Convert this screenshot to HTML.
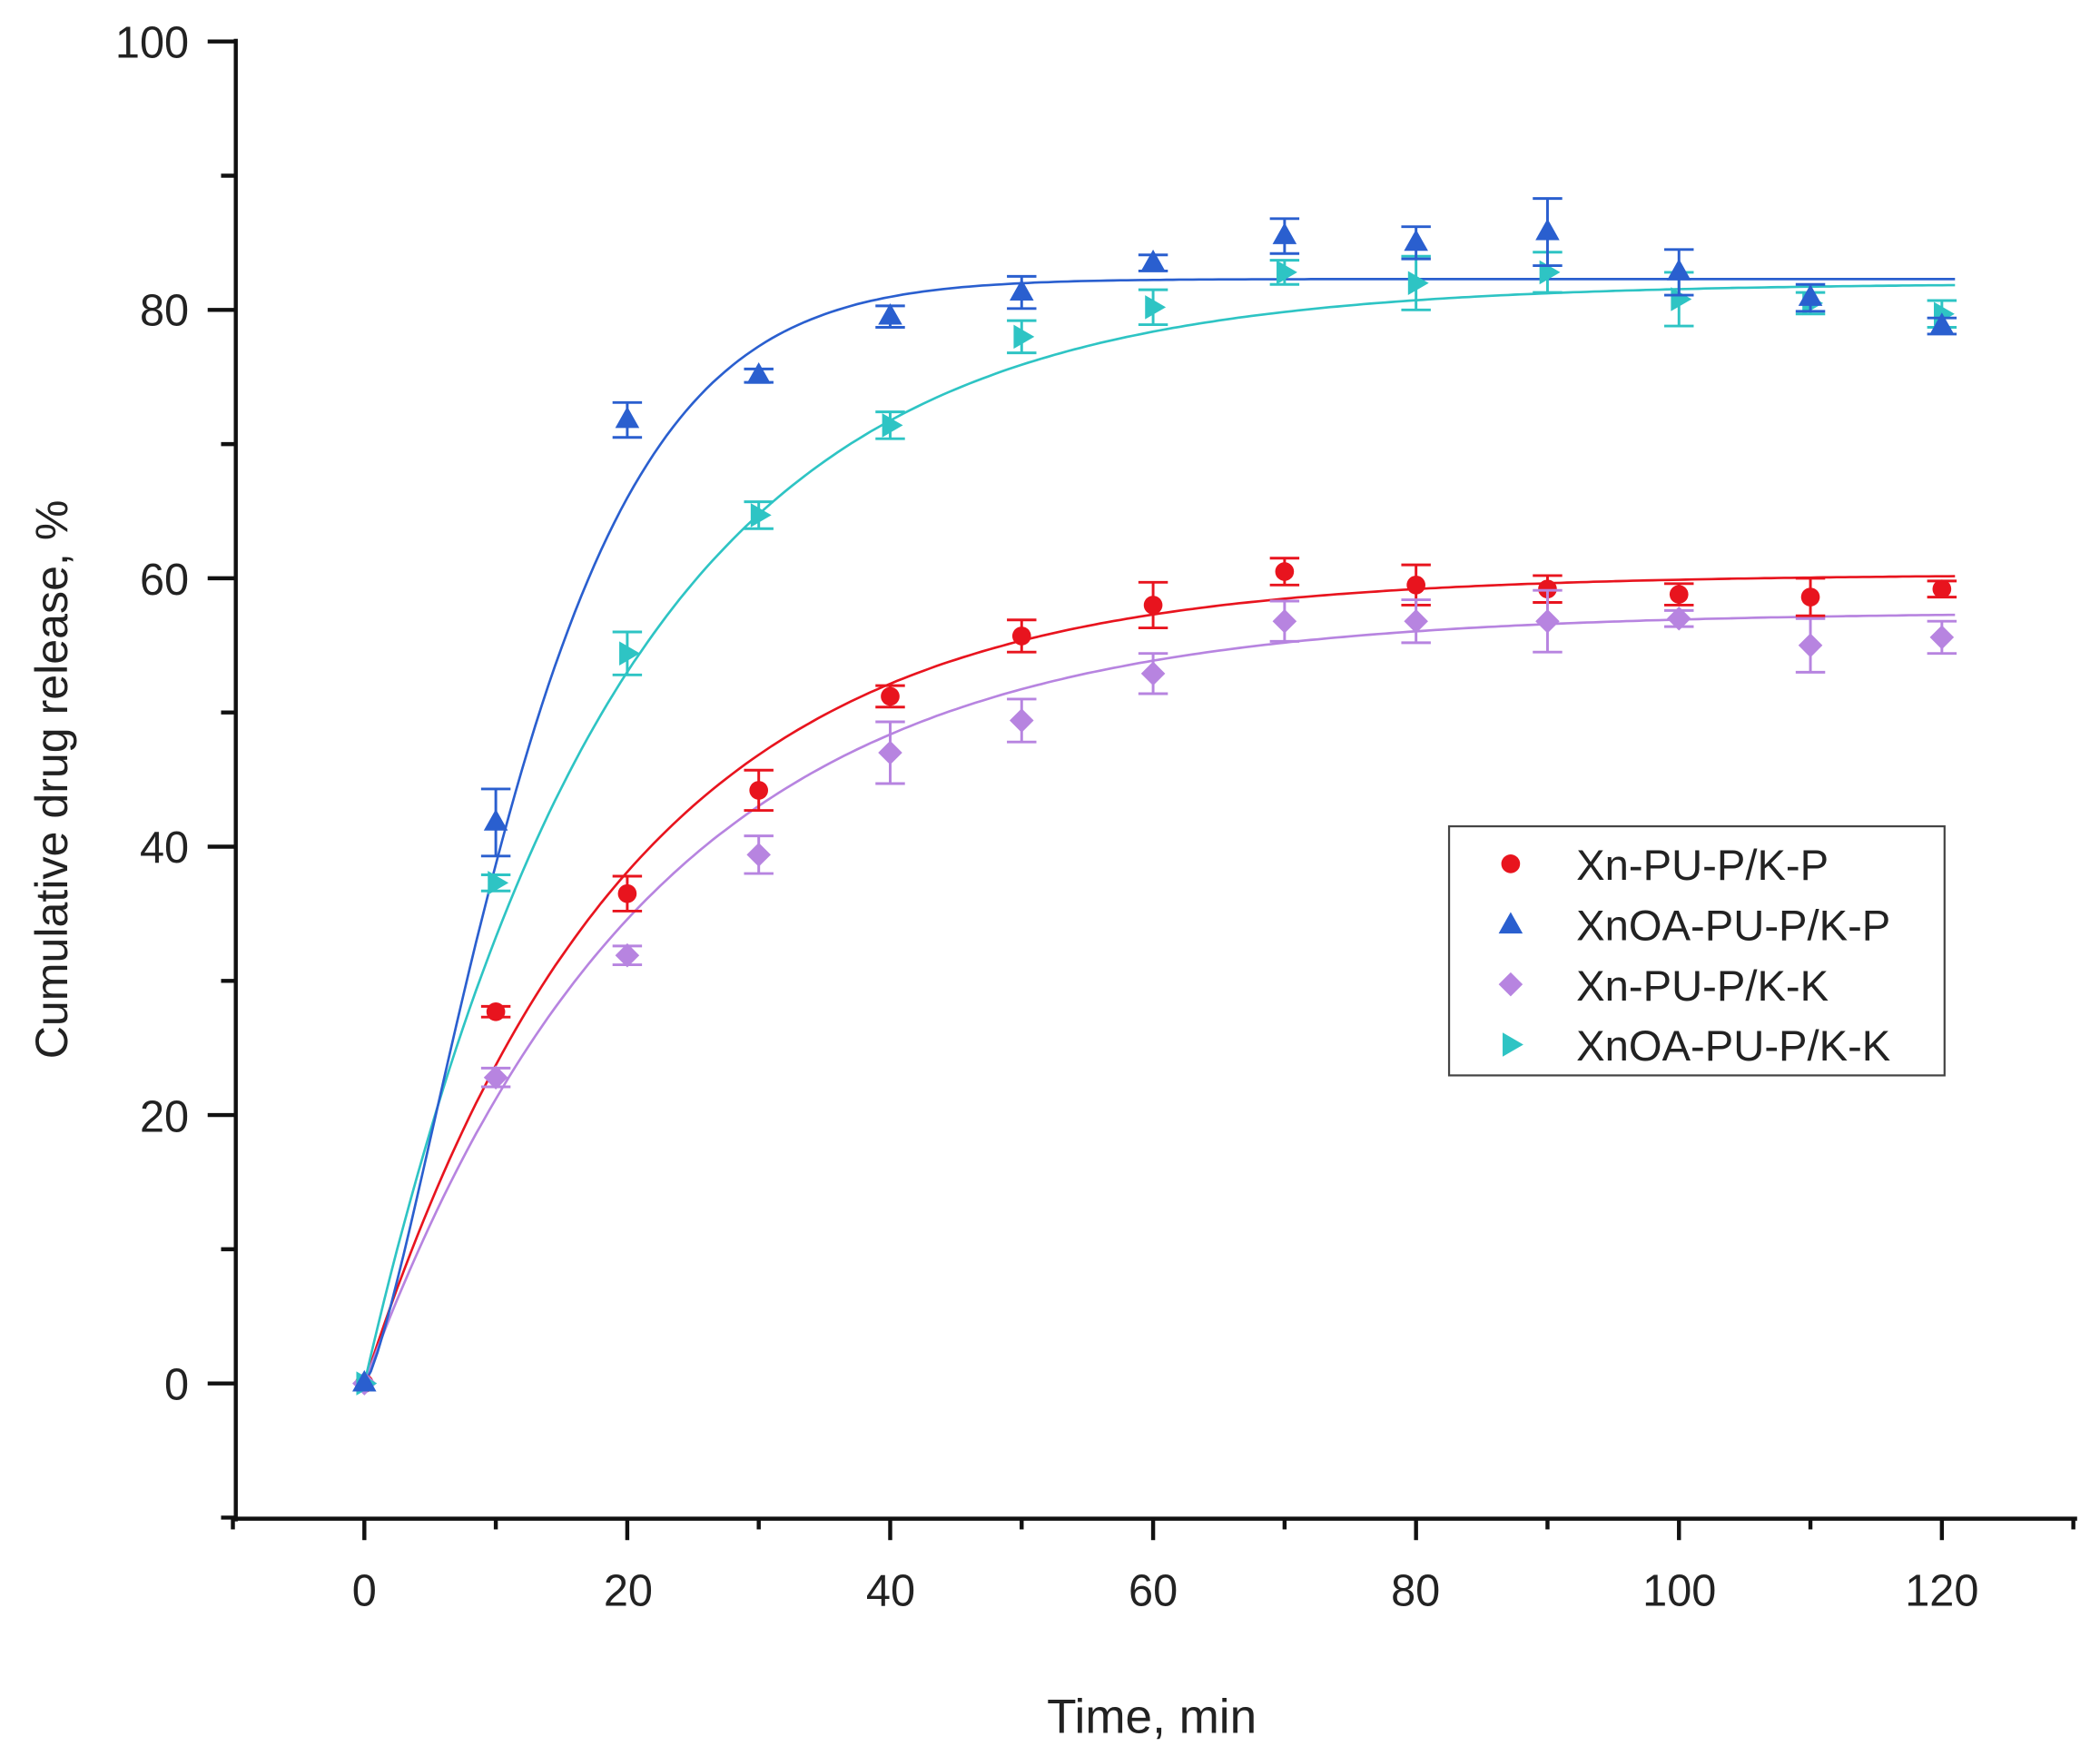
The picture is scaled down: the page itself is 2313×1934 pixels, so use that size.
<!DOCTYPE html>
<html><head><meta charset="utf-8"><style>
html,body{margin:0;padding:0;background:#fff;}
svg{display:block;}
text{font-family:"Liberation Sans",Arial,sans-serif;fill:#222;}
</style></head><body>
<svg id="s" width="2313" height="1934" viewBox="0 0 1568 1311.2" xmlns="http://www.w3.org/2000/svg">
<rect width="1568" height="1311.2" fill="#fff"/>
<g stroke="#111" stroke-width="3" fill="none" id="axes">
<line x1="176" y1="29" x2="176" y2="1136"/>
<line x1="174" y1="1134" x2="1551" y2="1134"/>
</g>
<g font-size="33" text-anchor="end">
<text x="141" y="43">100</text>
<text x="141" y="243">80</text>
<text x="141" y="444">60</text>
<text x="141" y="644">40</text>
<text x="141" y="845">20</text>
<text x="141" y="1045">0</text>
</g>
<g font-size="33" text-anchor="middle">
<text x="272" y="1199">0</text>
<text x="469" y="1199">20</text>
<text x="665" y="1199">40</text>
<text x="861" y="1199">60</text>
<text x="1057" y="1199">80</text>
<text x="1254" y="1199">100</text>
<text x="1450" y="1199">120</text>
<text x="860" y="1294" font-size="36">Time, min</text>
<text transform="translate(50,582) rotate(-90)" font-size="34">Cumulative drug release, %</text>
</g>
<g id="plot"></g>
<rect x="1082" y="617" width="370" height="186" fill="none" stroke="#444" stroke-width="1.5"/>
<g font-size="32">
<text x="1177" y="657">Xn-PU-P/K-P</text>
<text x="1177" y="702">XnOA-PU-P/K-P</text>
<text x="1177" y="747">Xn-PU-P/K-K</text>
<text x="1177" y="792">XnOA-PU-P/K-K</text>
</g>
<g id="leg"></g>
</svg>
<script>
var NS="http://www.w3.org/2000/svg";
function X(t){return 272+t*9.8167;}
function Y(v){return 1033-v*10.02;}
function el(p,tag,a){var e=document.createElementNS(NS,tag);for(var k in a)e.setAttribute(k,a[k]);p.appendChild(e);return e;}
var ax=document.getElementById('axes');
for(var v=-10;v<=100;v+=10){var maj=(v%20==0);el(ax,'line',{x1:maj?155:165,y1:Y(v),x2:176,y2:Y(v)});}
for(var t=-10;t<=130;t+=10){var maj=(t%20==0);el(ax,'line',{x1:X(t),y1:1134,x2:X(t),y2:maj?1150:1142});}
var P=document.getElementById('plot');
var S=[
{c:'#e8141e',m:'o',f:function(t){return 60.3*(1-Math.exp(-0.05*t));},
 d:[[0,0,0],[10,27.7,0.4],[20,36.5,1.3],[30,44.2,1.5],[40,51.2,0.8],[50,55.7,1.2],[60,58,1.7],[70,60.5,1],[80,59.5,1.5],[90,59.2,1],[100,58.8,0.8],[110,58.6,1.4],[120,59.2,0.6]]},
{c:'#b784e0',m:'d',f:function(t){return 57.5*(1-Math.exp(-0.046*t));},
 d:[[0,0,0],[10,22.8,0.7],[20,31.9,0.7],[30,39.4,1.4],[40,47,2.3],[50,49.4,1.6],[60,52.9,1.5],[70,56.8,1.5],[80,56.8,1.6],[90,56.8,2.3],[100,57,0.6],[110,55,2],[120,55.6,1.2]]},
{c:'#2ec4c4',m:'r',f:function(t){return 82*(1-Math.exp(-0.052*t));},
 d:[[0,0,0],[10,37.3,0.6],[20,54.4,1.6],[30,64.7,1],[40,71.4,1],[50,78,1.2],[60,80.2,1.3],[70,82.8,0.9],[80,82,2],[90,82.8,1.5],[100,80.8,2],[110,80.5,0.8],[120,79.7,1]]},
{c:'#2a5fcf',m:'t',f:function(t){return 82.3*(1-Math.exp(-Math.pow(t/14,1.35)));},
 d:[[0,0,0],[10,41.8,2.5],[20,71.8,1.3],[30,75.1,0.5],[40,79.5,0.8],[50,81.3,1.2],[60,83.5,0.6],[70,85.5,1.3],[80,85,1.2],[90,85.8,2.5],[100,82.8,1.7],[110,80.9,1],[120,78.8,0.6]]}
];
function mark(g,m,x,y,c){
 if(m=='o')el(g,'circle',{cx:x,cy:y,r:7,fill:c});
 else if(m=='d')el(g,'polygon',{points:(x)+','+(y-9)+' '+(x+9)+','+y+' '+x+','+(y+9)+' '+(x-9)+','+y,fill:c});
 else if(m=='t')el(g,'polygon',{points:x+','+(y-10)+' '+(x+9)+','+(y+6)+' '+(x-9)+','+(y+6),fill:c});
 else el(g,'polygon',{points:(x-6)+','+(y-9)+' '+(x+9.5)+','+y+' '+(x-6)+','+(y+9),fill:c});
}
S.forEach(function(s){
 var pts=[];for(var t=0;t<=121;t+=0.5)pts.push(X(t).toFixed(1)+','+Y(s.f(t)).toFixed(1));
 el(P,'polyline',{points:pts.join(' '),fill:'none',stroke:s.c,'stroke-width':1.8});
});
S.forEach(function(s){
 s.d.forEach(function(p){
  var x=X(p[0]),y=Y(p[1]),e=p[2]*10.02;
  if(e>0){var g=el(P,'g',{stroke:s.c,'stroke-width':2});
   el(g,'line',{x1:x,y1:y-e,x2:x,y2:y+e});
   el(g,'line',{x1:x-11,y1:y-e,x2:x+11,y2:y-e});
   el(g,'line',{x1:x-11,y1:y+e,x2:x+11,y2:y+e});}
  mark(P,s.m,x,y,s.c);
 });
});
var L=document.getElementById('leg');
mark(L,'o',1128,645,'#e8141e');mark(L,'t',1128,691,'#2a5fcf');mark(L,'d',1128,735,'#b784e0');mark(L,'r',1128,780,'#2ec4c4');
</script>
</body></html>
